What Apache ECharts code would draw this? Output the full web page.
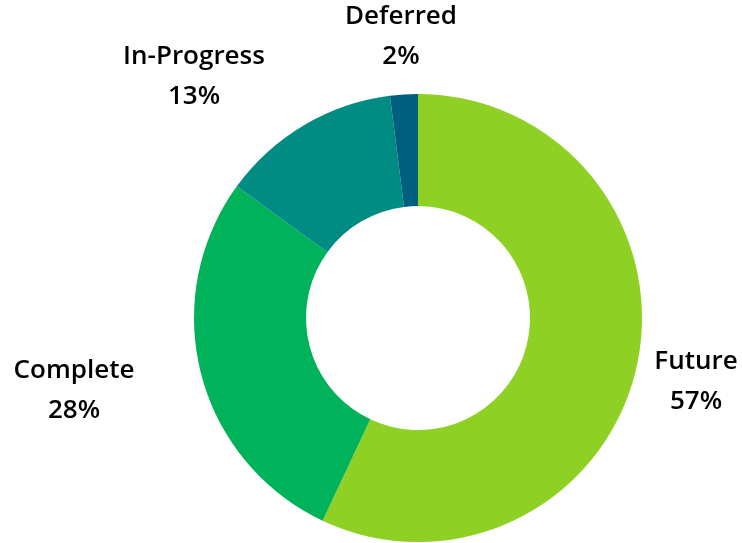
<!DOCTYPE html>
<html>
<head>
<meta charset="utf-8">
<script src="https://cdn.jsdelivr.net/npm/echarts@6/dist/echarts.min.js"></script>
<style>
html,body{margin:0;padding:0;background:#fff;}
#main{width:742px;height:543px;}
</style>
</head>
<body>
<div id="main"></div>
<script>
var categories = ['Future', 'Complete', 'In-Progress', 'Deferred'];
var values = [57, 28, 13, 2];
var colors = ['#8ed124', '#00b25a', '#008c82', '#005f7f'];
// label centres (layout only)
var labelPos = [[696, 382], [74, 391], [194, 77], [401, 37]];

var chart = echarts.init(document.getElementById('main'));
var data = [];
for (var i = 0; i < categories.length; i++) {
	data.push({ name: categories[i], value: values[i], itemStyle: { color: colors[i] } });
}
var option = {
	animation: false,
	series: [{
		type: 'pie',
		center: [418, 318],
		radius: [112, 224],
		startAngle: 90,
		clockwise: true,
		data: data,
		label: {
			show: true,
			position: 'outside',
			formatter: '{b}\n{d}%',
			fontFamily: 'Open Sans',
			fontSize: 26,
			fontWeight: 600,
			lineHeight: 40,
			color: '#000',
			overflow: 'none'
		},
		labelLine: { show: false },
		labelLayout: function (params) {
			var p = labelPos[params.dataIndex];
			return { x: p[0], y: p[1], align: 'center', verticalAlign: 'middle' };
		},
		itemStyle: { borderWidth: 0 }
	}]
};
chart.setOption(option);
</script>
</body>
</html>
